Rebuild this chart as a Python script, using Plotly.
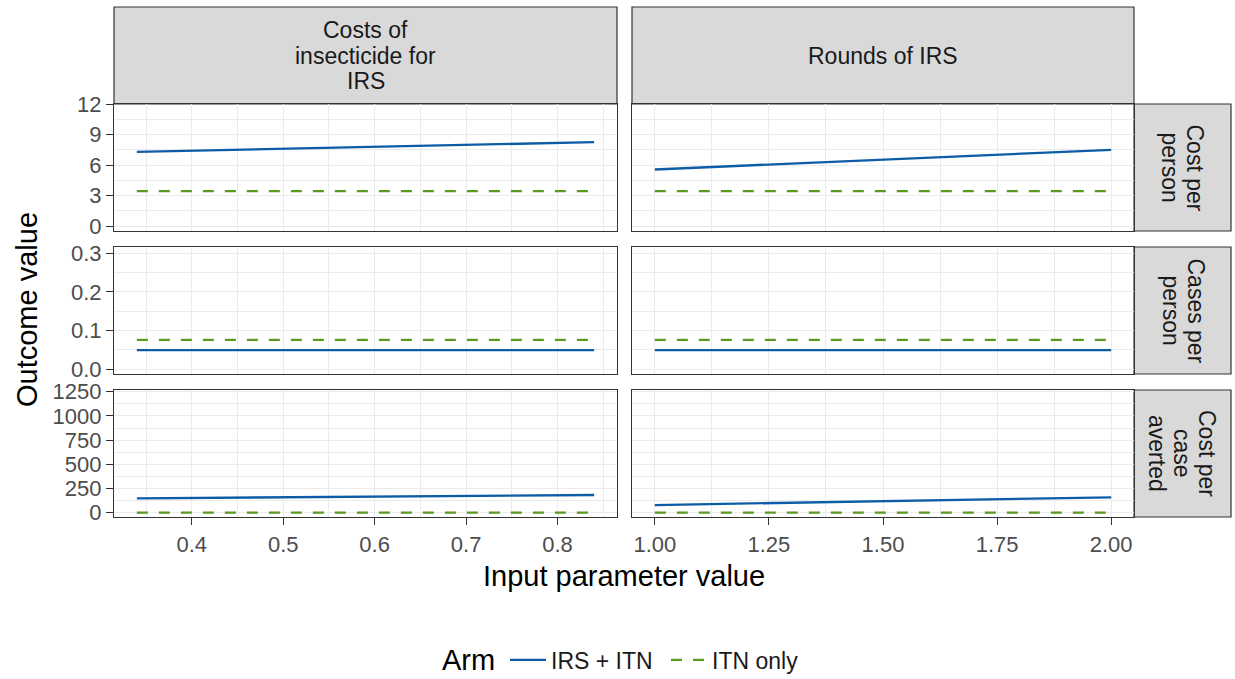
import plotly.graph_objects as go

W, H = 1235, 679

# ---------------- data ----------------
arms = ["IRS + ITN", "ITN only"]
arm_colors = ["#0C5DA5", "#5B9A20"]
arm_dash = ["solid", "11px,11px"]

col_strip_lines = [["Costs of", "insecticide for", "IRS"], ["Rounds of IRS"]]
row_strip_lines = [["Cost per", "person"], ["Cases per", "person"], ["Cost per", "case", "averted"]]

x_costs = [0.34, 0.84]          # cost of insecticide for IRS
x_rounds = [1.00, 2.00]         # rounds of IRS

# Cost per person
cpp_irs_costs = [7.31, 8.26]
cpp_itn_costs = [3.44, 3.44]
cpp_irs_rounds = [5.57, 7.51]
cpp_itn_rounds = [3.44, 3.44]
# Cases per person
cases_irs_costs = [0.0497, 0.0497]
cases_itn_costs = [0.0763, 0.0763]
cases_irs_rounds = [0.0497, 0.0497]
cases_itn_rounds = [0.0763, 0.0763]
# Cost per case averted
cpca_irs_costs = [148, 183]
cpca_itn_costs = [0, 0]
cpca_irs_rounds = [79, 159]
cpca_itn_rounds = [0, 0]

x_tick_costs = [0.4, 0.5, 0.6, 0.7, 0.8]
x_tick_rounds = [1.00, 1.25, 1.50, 1.75, 2.00]
y_ticks = [[0, 3, 6, 9, 12], [0.0, 0.1, 0.2, 0.3], [0, 250, 500, 750, 1000, 1250]]

# ---------------- layout geometry (pixels) ----------------
col_px = [(114, 617), (632, 1134)]
row_px = [(104, 231), (247, 374), (390, 517)]
top_strip_px = (7, 104)
right_strip_px = (1134, 1231)

x_ranges = [[0.315, 0.865], [0.95, 2.05]]
y_ranges = [[-0.49, 12.02], [-0.0122, 0.3163], [-44.4, 1267.6]]
x_dticks = [0.1, 0.25]
x_fmt = [".1f", ".2f"]
y_dticks = [3, 0.1, 250]
y_fmt = ["d", ".1f", "d"]
x_ticks = [x_tick_costs, x_tick_rounds]

series = {
    (0, 0): (x_costs, cpp_irs_costs, cpp_itn_costs),
    (0, 1): (x_rounds, cpp_irs_rounds, cpp_itn_rounds),
    (1, 0): (x_costs, cases_irs_costs, cases_itn_costs),
    (1, 1): (x_rounds, cases_irs_rounds, cases_itn_rounds),
    (2, 0): (x_costs, cpca_irs_costs, cpca_itn_costs),
    (2, 1): (x_rounds, cpca_irs_rounds, cpca_itn_rounds),
}

FONT = "Liberation Sans, Arial, sans-serif"
BORDER = "#333333"
GRID = "#EBEBEB"

fig = go.Figure()
layout = dict(
    width=W, height=H,
    margin=dict(l=0, r=0, t=0, b=0, autoexpand=False),
    paper_bgcolor="white", plot_bgcolor="white",
    font=dict(family=FONT, color="#1A1A1A"),
    showlegend=True,
)


def px2x(p):
    return p / W


def px2y(p):
    return 1 - p / H


for r in range(3):
    for c in range(2):
        k = r * 2 + c + 1
        xs, y_irs, y_itn = series[(r, c)]
        xa = "x" if k == 1 else f"x{k}"
        ya = "y" if k == 1 else f"y{k}"
        for ai, yv in enumerate([y_irs, y_itn]):
            fig.add_trace(go.Scatter(
                x=xs, y=yv, mode="lines", name=arms[ai],
                line=dict(color=arm_colors[ai], width=2.3, dash=arm_dash[ai]),
                xaxis=xa, yaxis=ya, legendgroup=arms[ai],
                showlegend=(k == 1), hoverinfo="skip"))
        bottom = (r == 2)
        left = (c == 0)
        layout[f"xaxis{'' if k == 1 else k}"] = dict(
            domain=[px2x(col_px[c][0]), px2x(col_px[c][1])],
            anchor=ya, range=x_ranges[c], automargin=False,
            tickvals=x_ticks[c], tickformat=x_fmt[c],
            showticklabels=bottom, ticks="outside" if bottom else "",
            ticklen=7, tickwidth=1.2, tickcolor=BORDER,
            tickfont=dict(size=22, color="#4D4D4D", family=FONT),
            showgrid=True, gridcolor=GRID, gridwidth=1.2,
            minor=dict(dtick=x_dticks[c] / 2, tick0=0, showgrid=True,
                       gridcolor=GRID, gridwidth=0.6, ticks=""),
            zeroline=False, showline=True, mirror=True,
            linecolor=BORDER, linewidth=1.2,
        )
        layout[f"yaxis{'' if k == 1 else k}"] = dict(
            domain=[px2y(row_px[r][1]), px2y(row_px[r][0])],
            anchor=xa, range=y_ranges[r], automargin=False,
            tickvals=y_ticks[r], tickformat=y_fmt[r],
            showticklabels=left, ticks="outside" if left else "",
            ticklen=7, tickwidth=1.2, tickcolor=BORDER,
            tickfont=dict(size=22, color="#4D4D4D", family=FONT),
            showgrid=True, gridcolor=GRID, gridwidth=1.2,
            minor=dict(dtick=y_dticks[r] / 2, tick0=0, showgrid=True,
                       gridcolor=GRID, gridwidth=0.6, ticks=""),
            zeroline=False, showline=True, mirror=True,
            linecolor=BORDER, linewidth=1.2,
        )

shapes = []
annotations = []
STRIP_FONT = dict(size=23, color="#1A1A1A", family=FONT)
LINE_GAP = 25

# top strips
for c in range(2):
    x0, x1 = col_px[c]
    y0, y1 = top_strip_px
    shapes.append(dict(type="rect", xref="paper", yref="paper",
                       x0=px2x(x0), x1=px2x(x1), y0=px2y(y1), y1=px2y(y0),
                       fillcolor="#D9D9D9", line=dict(color=BORDER, width=1.2),
                       layer="below"))
    lines = col_strip_lines[c]
    n = len(lines)
    cy = (y0 + y1) / 2
    for i, t in enumerate(lines):
        ly = cy + (i - (n - 1) / 2) * LINE_GAP
        annotations.append(dict(text=t, xref="paper", yref="paper",
                                x=px2x((x0 + x1) / 2), y=px2y(ly),
                                xanchor="center", yanchor="middle",
                                showarrow=False, font=STRIP_FONT))

# right strips
for r in range(3):
    x0, x1 = right_strip_px
    y0, y1 = row_px[r]
    shapes.append(dict(type="rect", xref="paper", yref="paper",
                       x0=px2x(x0), x1=px2x(x1), y0=px2y(y1), y1=px2y(y0),
                       fillcolor="#D9D9D9", line=dict(color=BORDER, width=1.2),
                       layer="below"))
    lines = row_strip_lines[r]
    n = len(lines)
    cx = (x0 + x1) / 2
    for i, t in enumerate(lines):
        lx = cx - (i - (n - 1) / 2) * LINE_GAP
        annotations.append(dict(text=t, xref="paper", yref="paper",
                                x=px2x(lx), y=px2y((y0 + y1) / 2),
                                xanchor="center", yanchor="middle", textangle=90,
                                showarrow=False, font=STRIP_FONT))

# axis titles
annotations.append(dict(text="Input parameter value", xref="paper", yref="paper",
                        x=px2x(624), y=px2y(576), xanchor="center", yanchor="middle",
                        showarrow=False, font=dict(size=29, color="black", family=FONT)))
annotations.append(dict(text="Outcome value", xref="paper", yref="paper",
                        x=px2x(27), y=px2y(310), xanchor="center", yanchor="middle",
                        textangle=-90, showarrow=False,
                        font=dict(size=29, color="black", family=FONT)))
# legend title
annotations.append(dict(text="Arm", xref="paper", yref="paper",
                        x=px2x(440), y=px2y(660), xanchor="left", yanchor="middle",
                        showarrow=False, font=dict(size=29, color="black", family=FONT)))

layout["shapes"] = shapes
layout["annotations"] = annotations
layout["legend"] = dict(
    orientation="h", x=px2x(505), xanchor="left", y=px2y(660), yanchor="middle",
    font=dict(size=23, color="#1A1A1A", family=FONT),
    bgcolor="rgba(0,0,0,0)", itemwidth=36, valign="middle",
    entrywidth=110, entrywidthmode="pixels",
)

fig.update_layout(**layout)
fig.write_html("out.html", config={"displayModeBar": False},
               post_script="document.body.style.margin='0px';document.body.style.padding='0px';")
